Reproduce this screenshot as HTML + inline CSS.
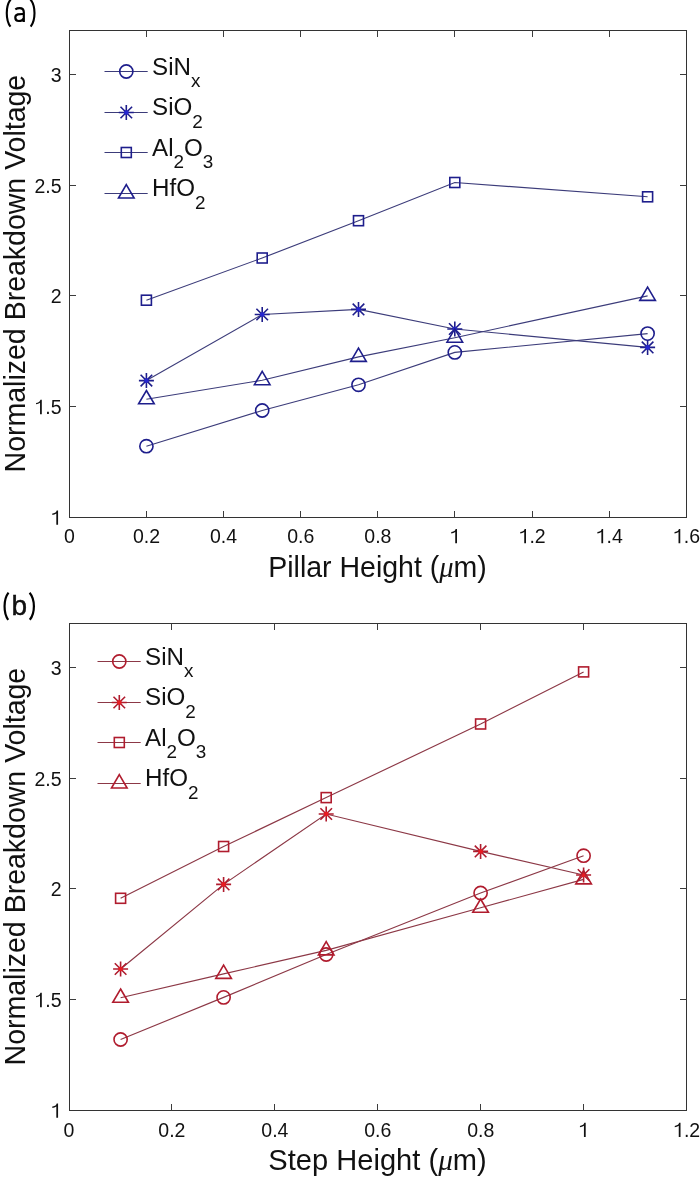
<!DOCTYPE html>
<html><head><meta charset="utf-8"><style>
html,body{margin:0;padding:0;background:#fff;}
body{width:700px;height:1177px;overflow:hidden;}
svg{display:block;will-change:transform;}
text{font-family:"Liberation Sans",sans-serif;fill:#111;}

.tk{font-size:20px;}
.lab{font-size:30.0px;}
.leg{font-size:23.0px;}
.sub{font-size:18px;}
.ttl{font-size:28px;}
.mu{font-family:"Liberation Serif",serif;font-style:italic;}
</style></head><body>
<svg width="700" height="1177" viewBox="0 0 700 1177">
<rect width="700" height="1177" fill="#fff"/>
<polyline points="146.40,446.20 262.20,410.50 358.50,384.80 454.80,352.40 647.60,333.60" fill="none" stroke="#3c3c7a" stroke-width="1.15"/>
<polyline points="146.40,380.60 262.20,314.50 358.50,309.40 454.80,329.00 647.60,347.40" fill="none" stroke="#3c3c7a" stroke-width="1.15"/>
<polyline points="146.40,300.20 262.20,258.00 358.50,220.70 454.80,182.50 647.60,196.80" fill="none" stroke="#3c3c7a" stroke-width="1.15"/>
<polyline points="146.40,399.30 262.20,380.20 358.50,356.90 454.80,337.70 647.60,295.90" fill="none" stroke="#3c3c7a" stroke-width="1.15"/>
<circle cx="146.40" cy="446.20" r="6.6" fill="none" stroke="#1e1e8c" stroke-width="1.6"/>
<circle cx="262.20" cy="410.50" r="6.6" fill="none" stroke="#1e1e8c" stroke-width="1.6"/>
<circle cx="358.50" cy="384.80" r="6.6" fill="none" stroke="#1e1e8c" stroke-width="1.6"/>
<circle cx="454.80" cy="352.40" r="6.6" fill="none" stroke="#1e1e8c" stroke-width="1.6"/>
<circle cx="647.60" cy="333.60" r="6.6" fill="none" stroke="#1e1e8c" stroke-width="1.6"/>
<path d="M138.90 380.60H153.90M146.40 373.10V388.10M140.60 374.80L152.20 386.40M140.60 386.40L152.20 374.80" stroke="#1e1e8c" stroke-width="1.6" fill="none"/><circle cx="146.40" cy="380.60" r="2.3" fill="#2626d0"/>
<path d="M254.70 314.50H269.70M262.20 307.00V322.00M256.40 308.70L268.00 320.30M256.40 320.30L268.00 308.70" stroke="#1e1e8c" stroke-width="1.6" fill="none"/><circle cx="262.20" cy="314.50" r="2.3" fill="#2626d0"/>
<path d="M351.00 309.40H366.00M358.50 301.90V316.90M352.70 303.60L364.30 315.20M352.70 315.20L364.30 303.60" stroke="#1e1e8c" stroke-width="1.6" fill="none"/><circle cx="358.50" cy="309.40" r="2.3" fill="#2626d0"/>
<path d="M447.30 329.00H462.30M454.80 321.50V336.50M449.00 323.20L460.60 334.80M449.00 334.80L460.60 323.20" stroke="#1e1e8c" stroke-width="1.6" fill="none"/><circle cx="454.80" cy="329.00" r="2.3" fill="#2626d0"/>
<path d="M640.10 347.40H655.10M647.60 339.90V354.90M641.80 341.60L653.40 353.20M641.80 353.20L653.40 341.60" stroke="#1e1e8c" stroke-width="1.6" fill="none"/><circle cx="647.60" cy="347.40" r="2.3" fill="#2626d0"/>
<rect x="141.40" y="295.20" width="10.0" height="10.0" fill="none" stroke="#1e1e8c" stroke-width="1.6"/>
<rect x="257.20" y="253.00" width="10.0" height="10.0" fill="none" stroke="#1e1e8c" stroke-width="1.6"/>
<rect x="353.50" y="215.70" width="10.0" height="10.0" fill="none" stroke="#1e1e8c" stroke-width="1.6"/>
<rect x="449.80" y="177.50" width="10.0" height="10.0" fill="none" stroke="#1e1e8c" stroke-width="1.6"/>
<rect x="642.60" y="191.80" width="10.0" height="10.0" fill="none" stroke="#1e1e8c" stroke-width="1.6"/>
<path d="M146.40 390.50L154.20 403.80L138.60 403.80Z" fill="none" stroke="#1e1e8c" stroke-width="1.6" stroke-linejoin="miter"/>
<path d="M262.20 371.40L270.00 384.70L254.40 384.70Z" fill="none" stroke="#1e1e8c" stroke-width="1.6" stroke-linejoin="miter"/>
<path d="M358.50 348.10L366.30 361.40L350.70 361.40Z" fill="none" stroke="#1e1e8c" stroke-width="1.6" stroke-linejoin="miter"/>
<path d="M454.80 328.90L462.60 342.20L447.00 342.20Z" fill="none" stroke="#1e1e8c" stroke-width="1.6" stroke-linejoin="miter"/>
<path d="M647.60 287.10L655.40 300.40L639.80 300.40Z" fill="none" stroke="#1e1e8c" stroke-width="1.6" stroke-linejoin="miter"/>
<rect x="69.5" y="30.5" width="617.0" height="487.0" fill="none" stroke="#333333" stroke-width="1"/>
<path d="M146.50 517.5V511.0M146.50 30.5V37.0M223.50 517.5V511.0M223.50 30.5V37.0M300.50 517.5V511.0M300.50 30.5V37.0M377.50 517.5V511.0M377.50 30.5V37.0M454.50 517.5V511.0M454.50 30.5V37.0M532.50 517.5V511.0M532.50 30.5V37.0M609.50 517.5V511.0M609.50 30.5V37.0M69.5 406.50H76.0M686.5 406.50H680.0M69.5 295.50H76.0M686.5 295.50H680.0M69.5 185.50H76.0M686.5 185.50H680.0M69.5 74.50H76.0M686.5 74.50H680.0" stroke="#3c3c3c" stroke-width="1" fill="none"/>
<text transform="translate(63.88 543.30) scale(0.975 1)" class="tk">0</text>
<text transform="translate(132.89 543.30) scale(0.975 1)" class="tk">0.2</text>
<text transform="translate(210.03 543.30) scale(0.975 1)" class="tk">0.4</text>
<text transform="translate(287.17 543.30) scale(0.975 1)" class="tk">0.6</text>
<text transform="translate(364.31 543.30) scale(0.975 1)" class="tk">0.8</text>
<path transform="translate(449.58 543.30) scale(19.500 20.000)" d="M0.290 0L0.380 0L0.380 -0.716L0.310 -0.716C0.292 -0.660 0.262 -0.625 0.215 -0.600C0.175 -0.578 0.130 -0.566 0.085 -0.560L0.085 -0.495C0.150 -0.500 0.235 -0.525 0.290 -0.566Z" fill="#111"/>
<path transform="translate(518.59 543.30) scale(19.500 20.000)" d="M0.290 0L0.380 0L0.380 -0.716L0.310 -0.716C0.292 -0.660 0.262 -0.625 0.215 -0.600C0.175 -0.578 0.130 -0.566 0.085 -0.560L0.085 -0.495C0.150 -0.500 0.235 -0.525 0.290 -0.566Z" fill="#111"/><text transform="translate(529.43 543.30) scale(0.975 1)" class="tk">.2</text>
<path transform="translate(595.73 543.30) scale(19.500 20.000)" d="M0.290 0L0.380 0L0.380 -0.716L0.310 -0.716C0.292 -0.660 0.262 -0.625 0.215 -0.600C0.175 -0.578 0.130 -0.566 0.085 -0.560L0.085 -0.495C0.150 -0.500 0.235 -0.525 0.290 -0.566Z" fill="#111"/><text transform="translate(606.57 543.30) scale(0.975 1)" class="tk">.4</text>
<path transform="translate(672.87 543.30) scale(19.500 20.000)" d="M0.290 0L0.380 0L0.380 -0.716L0.310 -0.716C0.292 -0.660 0.262 -0.625 0.215 -0.600C0.175 -0.578 0.130 -0.566 0.085 -0.560L0.085 -0.495C0.150 -0.500 0.235 -0.525 0.290 -0.566Z" fill="#111"/><text transform="translate(683.71 543.30) scale(0.975 1)" class="tk">.6</text>
<path transform="translate(50.66 524.80) scale(19.500 20.000)" d="M0.290 0L0.380 0L0.380 -0.716L0.310 -0.716C0.292 -0.660 0.262 -0.625 0.215 -0.600C0.175 -0.578 0.130 -0.566 0.085 -0.560L0.085 -0.495C0.150 -0.500 0.235 -0.525 0.290 -0.566Z" fill="#111"/>
<path transform="translate(34.39 414.14) scale(19.500 20.000)" d="M0.290 0L0.380 0L0.380 -0.716L0.310 -0.716C0.292 -0.660 0.262 -0.625 0.215 -0.600C0.175 -0.578 0.130 -0.566 0.085 -0.560L0.085 -0.495C0.150 -0.500 0.235 -0.525 0.290 -0.566Z" fill="#111"/><text transform="translate(45.24 414.14) scale(0.975 1)" class="tk">.5</text>
<text transform="translate(50.66 303.47) scale(0.975 1)" class="tk">2</text>
<text transform="translate(34.39 192.81) scale(0.975 1)" class="tk">2.5</text>
<text transform="translate(50.66 82.14) scale(0.975 1)" class="tk">3</text>
<text transform="translate(377.5 576.70) scale(0.9506 1)" text-anchor="middle" class="lab">Pillar Height (<tspan class="mu">μ</tspan>m)</text>
<text transform="translate(24.7 273.60) rotate(-90) scale(0.9506 1)" text-anchor="middle" class="lab">Normalized Breakdown Voltage</text>
<path d="M104.50 71.50H147.70" stroke="#3c3c7a" stroke-width="1"/>
<circle cx="126.30" cy="71.50" r="6.6" fill="none" stroke="#1e1e8c" stroke-width="1.6"/>
<text transform="translate(152.10 74.80) scale(1.05 1)" class="leg"><tspan>SiN</tspan><tspan class="sub" dy="12.5">x</tspan></text>
<path d="M104.50 112.50H147.70" stroke="#3c3c7a" stroke-width="1"/>
<path d="M118.80 112.50H133.80M126.30 105.00V120.00M120.50 106.70L132.10 118.30M120.50 118.30L132.10 106.70" stroke="#1e1e8c" stroke-width="1.6" fill="none"/><circle cx="126.30" cy="112.50" r="2.3" fill="#2626d0"/>
<text transform="translate(152.10 115.30) scale(1.05 1)" class="leg"><tspan>SiO</tspan><tspan class="sub" dy="12.5">2</tspan></text>
<path d="M104.50 152.50H147.70" stroke="#3c3c7a" stroke-width="1"/>
<rect x="121.30" y="147.50" width="10.0" height="10.0" fill="none" stroke="#1e1e8c" stroke-width="1.6"/>
<text transform="translate(152.10 155.80) scale(1.05 1)" class="leg"><tspan>Al</tspan><tspan class="sub" dy="12.5">2</tspan><tspan dy="-12.5">O</tspan><tspan class="sub" dy="12.5">3</tspan></text>
<path d="M104.50 193.50H147.70" stroke="#3c3c7a" stroke-width="1"/>
<path d="M126.30 184.70L134.10 198.00L118.50 198.00Z" fill="none" stroke="#1e1e8c" stroke-width="1.6" stroke-linejoin="miter"/>
<text transform="translate(152.10 196.30) scale(1.05 1)" class="leg"><tspan>HfO</tspan><tspan class="sub" dy="12.5">2</tspan></text>
<path d="M10.7 -0.6C5.5 6 5.5 20 10.5 26.7M30.4 -0.6C35.8 6 35.8 20 30.7 26.7" stroke="#000" stroke-width="2.1" fill="none"/><path d="M15.3 9.4C16.8 8.4 18.2 8.1 19.6 8.1C22.4 8.1 23.8 9.5 23.8 12.3V22M23.8 14C21.5 14 19.5 13.9 17.8 14.4C16.2 14.9 15.3 16 15.3 17.6C15.3 19.6 16.8 21 18.8 21C21 21 22.8 19.9 23.8 18.3" stroke="#000" stroke-width="2.2" fill="none"/>
<polyline points="120.60,1039.50 223.60,997.40 326.20,954.50 480.60,893.00 583.60,855.70" fill="none" stroke="#8c3846" stroke-width="1.15"/>
<polyline points="120.60,969.00 223.60,884.40 326.20,814.00 480.60,851.40 583.60,875.00" fill="none" stroke="#8c3846" stroke-width="1.15"/>
<polyline points="120.60,898.30 223.60,846.50 326.20,797.60 480.60,724.00 583.60,671.90" fill="none" stroke="#8c3846" stroke-width="1.15"/>
<polyline points="120.60,997.80 223.60,973.90 326.20,950.40 480.60,907.80 583.60,879.40" fill="none" stroke="#8c3846" stroke-width="1.15"/>
<circle cx="120.60" cy="1039.50" r="6.6" fill="none" stroke="#b01c2e" stroke-width="1.6"/>
<circle cx="223.60" cy="997.40" r="6.6" fill="none" stroke="#b01c2e" stroke-width="1.6"/>
<circle cx="326.20" cy="954.50" r="6.6" fill="none" stroke="#b01c2e" stroke-width="1.6"/>
<circle cx="480.60" cy="893.00" r="6.6" fill="none" stroke="#b01c2e" stroke-width="1.6"/>
<circle cx="583.60" cy="855.70" r="6.6" fill="none" stroke="#b01c2e" stroke-width="1.6"/>
<path d="M113.10 969.00H128.10M120.60 961.50V976.50M114.80 963.20L126.40 974.80M114.80 974.80L126.40 963.20" stroke="#b01c2e" stroke-width="1.6" fill="none"/><circle cx="120.60" cy="969.00" r="2.3" fill="#e81c22"/>
<path d="M216.10 884.40H231.10M223.60 876.90V891.90M217.80 878.60L229.40 890.20M217.80 890.20L229.40 878.60" stroke="#b01c2e" stroke-width="1.6" fill="none"/><circle cx="223.60" cy="884.40" r="2.3" fill="#e81c22"/>
<path d="M318.70 814.00H333.70M326.20 806.50V821.50M320.40 808.20L332.00 819.80M320.40 819.80L332.00 808.20" stroke="#b01c2e" stroke-width="1.6" fill="none"/><circle cx="326.20" cy="814.00" r="2.3" fill="#e81c22"/>
<path d="M473.10 851.40H488.10M480.60 843.90V858.90M474.80 845.60L486.40 857.20M474.80 857.20L486.40 845.60" stroke="#b01c2e" stroke-width="1.6" fill="none"/><circle cx="480.60" cy="851.40" r="2.3" fill="#e81c22"/>
<path d="M576.10 875.00H591.10M583.60 867.50V882.50M577.80 869.20L589.40 880.80M577.80 880.80L589.40 869.20" stroke="#b01c2e" stroke-width="1.6" fill="none"/><circle cx="583.60" cy="875.00" r="2.3" fill="#e81c22"/>
<rect x="115.60" y="893.30" width="10.0" height="10.0" fill="none" stroke="#b01c2e" stroke-width="1.6"/>
<rect x="218.60" y="841.50" width="10.0" height="10.0" fill="none" stroke="#b01c2e" stroke-width="1.6"/>
<rect x="321.20" y="792.60" width="10.0" height="10.0" fill="none" stroke="#b01c2e" stroke-width="1.6"/>
<rect x="475.60" y="719.00" width="10.0" height="10.0" fill="none" stroke="#b01c2e" stroke-width="1.6"/>
<rect x="578.60" y="666.90" width="10.0" height="10.0" fill="none" stroke="#b01c2e" stroke-width="1.6"/>
<path d="M120.60 989.00L128.40 1002.30L112.80 1002.30Z" fill="none" stroke="#b01c2e" stroke-width="1.6" stroke-linejoin="miter"/>
<path d="M223.60 965.10L231.40 978.40L215.80 978.40Z" fill="none" stroke="#b01c2e" stroke-width="1.6" stroke-linejoin="miter"/>
<path d="M326.20 941.60L334.00 954.90L318.40 954.90Z" fill="none" stroke="#b01c2e" stroke-width="1.6" stroke-linejoin="miter"/>
<path d="M480.60 899.00L488.40 912.30L472.80 912.30Z" fill="none" stroke="#b01c2e" stroke-width="1.6" stroke-linejoin="miter"/>
<path d="M583.60 870.60L591.40 883.90L575.80 883.90Z" fill="none" stroke="#b01c2e" stroke-width="1.6" stroke-linejoin="miter"/>
<rect x="69.5" y="623.5" width="617.0" height="487.0" fill="none" stroke="#333333" stroke-width="1"/>
<path d="M171.50 1110.5V1104.0M171.50 623.5V630.0M274.50 1110.5V1104.0M274.50 623.5V630.0M377.50 1110.5V1104.0M377.50 623.5V630.0M480.50 1110.5V1104.0M480.50 623.5V630.0M583.50 1110.5V1104.0M583.50 623.5V630.0M69.5 999.50H76.0M686.5 999.50H680.0M69.5 888.50H76.0M686.5 888.50H680.0M69.5 778.50H76.0M686.5 778.50H680.0M69.5 667.50H76.0M686.5 667.50H680.0" stroke="#3c3c3c" stroke-width="1" fill="none"/>
<text transform="translate(63.53 1137.10) scale(0.975 1)" class="tk">0</text>
<text transform="translate(158.35 1137.10) scale(0.975 1)" class="tk">0.2</text>
<text transform="translate(261.30 1137.10) scale(0.975 1)" class="tk">0.4</text>
<text transform="translate(364.25 1137.10) scale(0.975 1)" class="tk">0.6</text>
<text transform="translate(467.20 1137.10) scale(0.975 1)" class="tk">0.8</text>
<path transform="translate(578.28 1137.10) scale(19.500 20.000)" d="M0.290 0L0.380 0L0.380 -0.716L0.310 -0.716C0.292 -0.660 0.262 -0.625 0.215 -0.600C0.175 -0.578 0.130 -0.566 0.085 -0.560L0.085 -0.495C0.150 -0.500 0.235 -0.525 0.290 -0.566Z" fill="#111"/>
<path transform="translate(673.10 1137.10) scale(19.500 20.000)" d="M0.290 0L0.380 0L0.380 -0.716L0.310 -0.716C0.292 -0.660 0.262 -0.625 0.215 -0.600C0.175 -0.578 0.130 -0.566 0.085 -0.560L0.085 -0.495C0.150 -0.500 0.235 -0.525 0.290 -0.566Z" fill="#111"/><text transform="translate(683.94 1137.10) scale(0.975 1)" class="tk">.2</text>
<path transform="translate(50.66 1117.80) scale(19.500 20.000)" d="M0.290 0L0.380 0L0.380 -0.716L0.310 -0.716C0.292 -0.660 0.262 -0.625 0.215 -0.600C0.175 -0.578 0.130 -0.566 0.085 -0.560L0.085 -0.495C0.150 -0.500 0.235 -0.525 0.290 -0.566Z" fill="#111"/>
<path transform="translate(34.39 1007.14) scale(19.500 20.000)" d="M0.290 0L0.380 0L0.380 -0.716L0.310 -0.716C0.292 -0.660 0.262 -0.625 0.215 -0.600C0.175 -0.578 0.130 -0.566 0.085 -0.560L0.085 -0.495C0.150 -0.500 0.235 -0.525 0.290 -0.566Z" fill="#111"/><text transform="translate(45.24 1007.14) scale(0.975 1)" class="tk">.5</text>
<text transform="translate(50.66 896.47) scale(0.975 1)" class="tk">2</text>
<text transform="translate(34.39 785.81) scale(0.975 1)" class="tk">2.5</text>
<text transform="translate(50.66 675.14) scale(0.975 1)" class="tk">3</text>
<text transform="translate(377.5 1169.70) scale(0.9699 1)" text-anchor="middle" class="lab">Step Height (<tspan class="mu">μ</tspan>m)</text>
<text transform="translate(24.7 866.60) rotate(-90) scale(0.9506 1)" text-anchor="middle" class="lab">Normalized Breakdown Voltage</text>
<path d="M97.50 661.50H140.70" stroke="#8c3846" stroke-width="1"/>
<circle cx="119.30" cy="661.50" r="6.6" fill="none" stroke="#b01c2e" stroke-width="1.6"/>
<text transform="translate(145.10 664.80) scale(1.05 1)" class="leg"><tspan>SiN</tspan><tspan class="sub" dy="12.5">x</tspan></text>
<path d="M97.50 702.50H140.70" stroke="#8c3846" stroke-width="1"/>
<path d="M111.80 702.50H126.80M119.30 695.00V710.00M113.50 696.70L125.10 708.30M113.50 708.30L125.10 696.70" stroke="#b01c2e" stroke-width="1.6" fill="none"/><circle cx="119.30" cy="702.50" r="2.3" fill="#e81c22"/>
<text transform="translate(145.10 705.30) scale(1.05 1)" class="leg"><tspan>SiO</tspan><tspan class="sub" dy="12.5">2</tspan></text>
<path d="M97.50 742.50H140.70" stroke="#8c3846" stroke-width="1"/>
<rect x="114.30" y="737.50" width="10.0" height="10.0" fill="none" stroke="#b01c2e" stroke-width="1.6"/>
<text transform="translate(145.10 745.80) scale(1.05 1)" class="leg"><tspan>Al</tspan><tspan class="sub" dy="12.5">2</tspan><tspan dy="-12.5">O</tspan><tspan class="sub" dy="12.5">3</tspan></text>
<path d="M97.50 783.50H140.70" stroke="#8c3846" stroke-width="1"/>
<path d="M119.30 774.70L127.10 788.00L111.50 788.00Z" fill="none" stroke="#b01c2e" stroke-width="1.6" stroke-linejoin="miter"/>
<text transform="translate(145.10 786.30) scale(1.05 1)" class="leg"><tspan>HfO</tspan><tspan class="sub" dy="12.5">2</tspan></text>
<path d="M8.5 592.7C3.3 599.5 3.3 613 8.2 619.8M29.6 592.7C35.3 599.5 35.3 613 29.8 619.8" stroke="#000" stroke-width="2.2" fill="none"/><text transform="translate(11.6 614.6) scale(1 1)" class="ttl" style="stroke:#000;stroke-width:0.4">b</text>
</svg>
</body></html>
